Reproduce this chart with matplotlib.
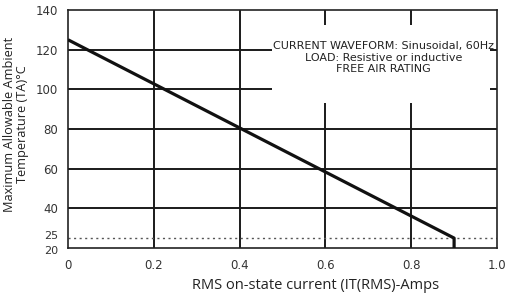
import numpy as np
import matplotlib.pyplot as plt
import matplotlib.transforms as mtransforms
from matplotlib.patches import Rectangle

# === Data ===
current = [0.0, 0.9, 0.9]
temp = [125, 25, 20]
ambient = 25
xticks = [0, 0.2, 0.4, 0.6, 0.8, 1.0]
xtick_labels = ['0', '0.2', '0.4', '0.6', '0.8', '1.0']
yticks = [20, 25, 40, 60, 80, 100, 120, 140]
ygrid = [40, 60, 80, 100, 120]
note = "CURRENT WAVEFORM: Sinusoidal, 60Hz\nLOAD: Resistive or inductive\nFREE AIR RATING"

# === Figure ===
fig = plt.figure(figsize=(5.08, 2.97), dpi=100)
ax = fig.add_axes([68/508, 1 - 248/297, 429/508, 238/297])

ax.set_xlim(0, 1.0)
ax.set_ylim(20, 140)

for x in xticks[1:-1]:
    ax.axvline(x, color='#1a1a1a', lw=1.4, zorder=1)
for y in ygrid:
    ax.axhline(y, color='#1a1a1a', lw=1.4, zorder=1)

ax.axhline(ambient, color='#555555', lw=1.0, ls=(0, (1.5, 2.5)), zorder=2)

# white panel behind the note
ax.add_patch(Rectangle((0.476, 0.609), 0.508, 0.328, transform=ax.transAxes,
                       facecolor='white', edgecolor='none', zorder=3))
ax.text(0.735, 0.80, note, transform=ax.transAxes, ha='center', va='center',
        fontsize=8.0, color='#222222', linespacing=1.2, zorder=4,
        family='DejaVu Sans')

ax.plot(current, temp, color='#111111', lw=2.3, solid_capstyle='butt', zorder=5)

for s in ax.spines.values():
    s.set_color('#222222')
    s.set_linewidth(1.2)

ax.set_xticks(xticks)
ax.set_xticklabels(xtick_labels)
ax.set_yticks(yticks)
ax.tick_params(length=0, labelsize=8.5, labelcolor='#333333')
ax.tick_params(axis='x', pad=8)
ax.tick_params(axis='y', pad=7)

# squeeze the 25 / 20 labels apart a little
ylabs = ax.get_yticklabels()
ylabs[0].set_transform(ylabs[0].get_transform() +
                       mtransforms.ScaledTranslation(0, -1.5/72, fig.dpi_scale_trans))
ylabs[1].set_transform(ylabs[1].get_transform() +
                       mtransforms.ScaledTranslation(0, 2.5/72, fig.dpi_scale_trans))
for t in ylabs[:2]:
    t.set_fontsize(8)

ax.set_xlabel("RMS on-state current (IT(RMS)-Amps", fontsize=10.5,
              family='Open Sans', color='#222222')
ax.xaxis.set_label_coords(0.576, -0.125)
ax.set_ylabel("Maximum Allowable Ambient\nTemperature (TA)\u00b0C", fontsize=9.2,
              family='Open Sans', color='#222222', linespacing=1.0)
ax.yaxis.set_label_coords(-0.092, 0.52)

fig.savefig('out.png', dpi=100)
